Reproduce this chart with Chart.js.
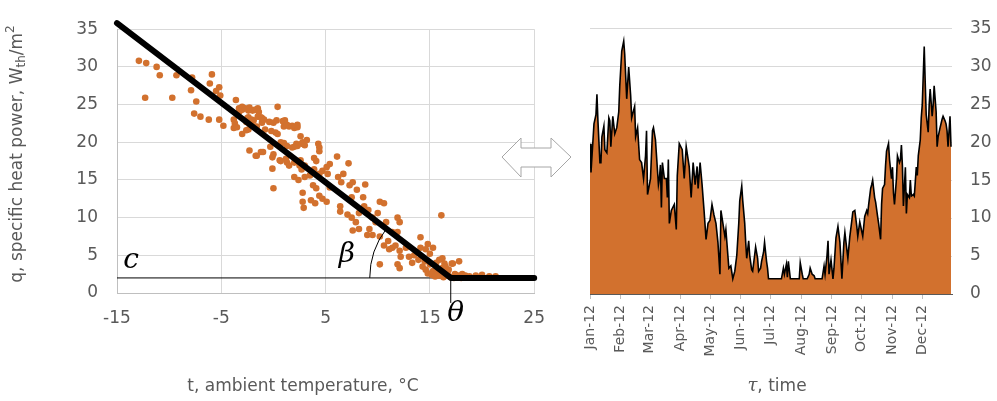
<!DOCTYPE html>
<html>
<head>
<meta charset="utf-8">
<script src="https://cdn.jsdelivr.net/npm/chart.js@4.4.1/dist/chart.umd.min.js"></script>
<style>
  body { margin: 0; background: #fff; width: 997px; height: 401px; overflow: hidden; position: relative; }
  #scatterChart { position: absolute; left: 0; top: 0; }
  #timeChart { position: absolute; left: 570px; top: 0; }
  #arrow { position: absolute; left: 0; top: 0; }
</style>
</head>
<body>
<canvas id="scatterChart" width="560" height="401"></canvas>
<canvas id="timeChart" width="427" height="401"></canvas>
<svg id="arrow" width="997" height="401">
  <polygon points="502,157 521,138 521,148 551,148 551,138 571,157 551,177 551,167 521,167 521,177"
           fill="#fff" stroke="#a6a6a6" stroke-width="1"/>
</svg>
<script>
// left panel: daily points, ambient temperature (°C) vs specific heat power
const scatterTemp = [
  -12.9, -12.2, -11.2, -10.9, -12.3, -9.7, -9.3, -7.8, -5.9, -7.9,
  -7.4, -6.1, -5.5, -5.2, -5.1, -7.6, -7.0, -6.2, -5.2, -4.8,
  -3.6, -3.3, -3.0, -3.3, -3.8, -3.8, -3.0, -2.4, -2.0, -1.5,
  -1.4, -1.2, -2.4, -2.6, -1.9, -1.1, -0.4, 0.3, 0.4, -2.4,
  -1.8, -0.8, -0.2, 0.4, 1.1, 1.0, 1.5, 2.0, 0.7, -0.3,
  -1.2, -2.3, -1.7, 0.0, 0.7, 1.3, -0.1, 2.0, 0.0,
  2.3, 2.6, 2.8, 3.2, 3.0, 2.2, 2.0, 4.3, 4.4, 4.4,
  3.9, 4.1, 3.0, 2.7, 2.4, 3.0, 3.5, 3.9, 4.4, 4.7,
  5.1, 5.4, 5.2, 6.1, 7.2, 6.2, 6.7, 6.5, 7.3, 7.6,
  8.0, 8.8, 3.8, 4.1, 2.8,
  8.6, 7.5, 4.4, 2.8, 2.9, 4.0, 4.7, 5.1, 6.4, 6.4,
  7.1, 7.5, 7.9, 8.2, 8.7, 9.1, 9.5, 10.0, 10.2, 10.6,
  9.8, 9.2, 9.0, 8.2, 7.6, 9.5, 10.2, 10.8, 11.0, 11.4,
  11.9, 12.1, 11.9, 10.6, 11.1, 11.4, 11.7, 12.1, 12.2, 10.2,
  11.9, 12.1, 12.7, 13.0, 13.3, 13.5, 14.1, 14.1, 14.6, 15.3,
  14.8, 13.9, 14.3, 14.6, 15.0, 15.3, 15.6, 15.9, 16.2, 15.7,
  16.1, 16.4, 16.8, 17.2, 17.8, 17.4, 17.7, 18.1, 18.4, 18.8,
  19.4, 20.0, 20.7, 21.3, 16.1, 15.0, 16.2, 16.7, 17.0, 5.4,
  3.6, 14.8, 15.2, 15.5, 15.9, 16.3, 16.6, 17.3, 17.6, 18.0,
  18.6, 14.5, 15.6, 16.5, 17.1,
  -3.7, -3.5, -2.5, -2.1, -1.5, -1.1, -0.9, -2.2, -1.6, -2.6,
  0.0, 0.9, 1.3, 1.8, 2.3, 0.2, 1.0, 1.3, 1.8, 2.3,
  2.7, -1.6, -1.0, -0.1, 0.6, 1.2, 1.5, 2.0, 2.5, 2.6,
  -3.0, -2.7, -2.3, -1.8
];
const scatterQ = [
  30.8, 30.5, 30.0, 28.9, 25.9, 25.9, 28.9, 28.6, 29.0, 26.9,
  25.4, 27.8, 26.8, 27.3, 26.2, 23.8, 23.4, 23.0, 23.0, 22.2,
  25.6, 24.5, 24.7, 24.0, 23.0, 21.9, 21.1, 24.2, 24.2, 24.5,
  24.0, 23.3, 23.3, 22.7, 22.9, 22.6, 22.7, 22.9, 24.7, 21.7,
  22.1, 21.7, 21.5, 21.1, 22.9, 22.1, 22.1, 21.9, 20.0, 19.4,
  18.7, 18.9, 18.2, 18.4, 17.5, 17.3, 16.5, 15.4, 13.9,
  22.0, 20.8, 20.0, 20.3, 19.6, 19.8, 19.4, 19.8, 19.3, 18.8,
  17.9, 17.5, 16.9, 16.4, 15.0, 15.4, 15.6, 16.4, 15.8, 16.2,
  16.7, 17.1, 15.8, 18.1, 17.2, 15.4, 15.8, 14.7, 14.3, 14.7,
  13.7, 14.4, 14.3, 13.9, 13.3,
  12.7, 12.7, 12.9, 12.1, 11.3, 11.9, 12.5, 12.1, 11.5, 10.8,
  10.4, 10.0, 9.4, 10.6, 11.5, 11.0, 10.0, 10.6, 12.1, 11.9,
  9.4, 8.5, 7.7, 8.5, 8.3, 7.7, 7.5, 9.4, 6.9, 8.1,
  10.0, 9.4, 8.1, 6.3, 5.8, 6.0, 6.3, 5.6, 4.8, 3.8,
  3.8, 3.3, 6.0, 4.8, 4.0, 5.0, 7.4, 6.0, 5.8, 6.0,
  6.5, 4.4, 3.5, 3.1, 3.8, 2.9, 3.3, 4.4, 4.6, 2.5,
  2.9, 3.9, 3.1, 3.9, 4.2, 2.5, 2.3, 2.5, 2.3, 2.2,
  2.3, 2.4, 2.2, 2.2, 10.3, 5.2, 3.3, 2.7, 2.1, 14.0,
  12.3, 2.6, 2.4, 2.2, 2.3, 2.1, 2.4, 2.0, 2.2, 2.0,
  2.1, 4.2, 4.0, 3.5, 3.9,
  22.5, 22.0, 23.2, 23.0, 23.4, 23.2, 23.0, 22.3, 22.1, 21.6,
  22.6, 22.8, 22.3, 22.2, 22.3, 21.3, 19.9, 19.5, 19.3, 19.5,
  19.8, 18.2, 18.7, 18.0, 17.6, 17.8, 16.9, 17.3, 16.9, 17.6,
  24.3, 24.5, 24.6, 24.3
];

// piecewise fit: start, theta (balance point), end
const fitTemp = [-15, 17, 25];
const fitQ = [35.8, 2, 2];
const leftXTicks = [-15, -5, 5, 15, 25];

// right panel: daily values through 2012 (day of year, q)
const dayOfYear = [
  0, 1, 4, 6, 7, 8, 10, 11, 12, 14, 15, 17, 19, 20, 21, 23, 25, 27, 29, 30,
  32, 34, 35, 37, 39, 41, 42, 45, 46, 48, 50, 52, 54, 56, 57, 58, 61, 63, 64, 66,
  69, 70, 71, 72, 73, 75, 77, 78, 79, 80, 82, 85, 87, 88, 90, 93, 95, 97, 100, 102,
  104, 106, 108, 109, 111, 113, 115, 117, 119, 121,
  123, 125, 127, 129, 131, 132, 134, 136, 137, 138, 140, 142, 144, 146, 148, 150, 151, 153, 154, 156,
  157, 158, 160, 161, 163, 164, 166, 167, 169, 170, 172, 173, 175, 176, 178, 179, 180, 193, 195, 196,
  198, 199, 200, 202, 211, 212, 214, 215, 219, 221, 222, 224, 226, 227, 234, 236, 237, 239, 240, 241,
  243, 245, 246, 248, 250, 252, 254, 256, 257, 259, 260, 262, 264, 265, 267, 269, 270, 272, 275, 277,
  279, 280, 281, 283, 284, 285, 287, 288, 290, 291, 293, 294, 295, 297, 298, 299, 301, 302, 304, 305,
  306, 307, 309, 310, 312, 313, 314, 315, 316, 318, 319, 320, 322, 323, 324, 326, 327, 329, 330, 331,
  333, 334, 335, 337, 338, 339, 341, 342, 343, 345, 346, 347, 349, 350, 351, 353, 355, 356, 358, 359,
  360, 361, 363, 364
];
const qDaily = [
  19.8, 16.0, 22.4, 23.6, 26.3, 22.8, 17.3, 17.3, 20.7, 22.1, 19.0, 18.6, 23.2, 22.8, 19.4, 23.4, 21.1, 21.9, 24.0, 27.4,
  32.0, 33.3, 31.6, 25.7, 29.9, 26.1, 23.2, 24.7, 20.7, 21.9, 17.7, 17.3, 15.2, 18.2, 21.5, 13.1, 15.2, 21.5, 21.9, 20.3,
  14.4, 15.2, 17.0, 11.4, 17.3, 15.2, 15.2, 12.7, 17.7, 9.3, 11.0, 11.8, 8.5, 15.6, 19.8, 19.0, 15.2, 19.4, 16.8, 12.7,
  17.3, 14.4, 16.8, 13.9, 17.3, 14.4, 11.0, 7.2, 9.3, 9.7,
  11.8, 10.4, 9.3, 6.8, 2.6, 11.0, 9.3, 7.6, 8.5, 6.8, 3.4, 3.7, 2.0, 3.0, 5.1, 9.3, 12.3, 14.2, 12.3, 9.3,
  6.8, 4.7, 7.0, 5.1, 3.2, 3.0, 5.1, 6.2, 4.7, 3.0, 3.4, 4.3, 5.5, 6.8, 4.3, 3.4, 2.0, 2.0, 3.4, 2.6,
  3.9, 2.2, 4.3, 2.0, 2.0, 4.1, 2.6, 2.0, 2.0, 2.6, 3.4, 2.6, 2.4, 2.0, 2.0, 3.7, 2.6, 5.1, 7.0, 2.6,
  4.5, 2.0, 3.4, 7.4, 8.9, 6.8, 2.0, 6.8, 8.1, 5.8, 4.7, 7.6, 9.7, 10.8, 11.0, 8.9, 7.6, 9.5, 7.6, 10.2,
  11.0, 10.6, 11.8, 13.9, 14.4, 15.0, 12.7, 12.1, 10.2, 9.3, 7.2, 11.8, 13.9, 14.4, 16.9, 18.8, 19.8, 17.7, 15.2, 16.7,
  13.3, 11.8, 15.2, 18.2, 17.3, 17.7, 19.6, 16.9, 11.6, 16.7, 10.6, 13.1, 12.7, 15.0, 12.9, 13.1, 12.9, 16.7, 15.6, 18.2,
  20.3, 23.2, 24.9, 32.6, 27.8, 23.6, 21.3, 24.9, 27.0, 23.4, 24.9, 27.4, 24.0, 19.4, 20.7, 21.9, 23.0, 23.4, 22.8, 22.4,
  21.5, 19.4, 23.4, 19.4
];
const monthStarts = [0, 31, 60, 91, 121, 152, 182, 213, 244, 274, 305, 335];
const monthLabels = ['Jan-12', 'Feb-12', 'Mar-12', 'Apr-12', 'May-12', 'Jun-12',
                     'Jul-12', 'Aug-12', 'Sep-12', 'Oct-12', 'Nov-12', 'Dec-12'];

const orange = '#D2712E';
const gray = '#595959';
const tickFont = { family: 'DejaVu Sans', size: 17 };
const mathFont = 'italic 28px "DejaVu Serif"';

// c, beta, theta marks + axis titles on the left panel
const leftAnnotations = {
  id: 'leftAnnotations',
  afterDatasetsDraw(chart) {
    const ctx = chart.ctx;
    const x = chart.scales.x, y = chart.scales.y;
    const px = x.getPixelForValue(fitTemp[1]);
    const py = y.getPixelForValue(fitQ[1]);
    const sx = x.getPixelForValue(fitTemp[0]);
    const sy = y.getPixelForValue(fitQ[0]);
    const ang = Math.atan2(py - sy, px - sx);

    ctx.save();
    ctx.strokeStyle = '#000';
    ctx.lineWidth = 1;
    ctx.beginPath();
    ctx.moveTo(px, py);
    ctx.lineTo(px, py + 25);
    ctx.stroke();

    ctx.beginPath();
    ctx.arc(px, py, 81, Math.PI, Math.PI + ang, false);
    ctx.stroke();

    ctx.fillStyle = '#000';
    ctx.font = mathFont;
    ctx.textAlign = 'center';
    ctx.textBaseline = 'alphabetic';
    ctx.fillText('c', chart.chartArea.left + 14, py - 10);
    ctx.fillText('β', px - 104, py - 16);
    ctx.fillText('θ', px + 5, py + 43);
    ctx.restore();
  },
  afterDraw(chart) {
    const ctx = chart.ctx;
    ctx.save();
    ctx.fillStyle = gray;
    ctx.textBaseline = 'middle';
    ctx.textAlign = 'center';
    ctx.font = '17px "DejaVu Sans"';
    ctx.fillText('t, ambient temperature, °C', 303, 387);

    // rotated y title with sub/superscript
    const parts = [
      ['q, specific heat power, W', 17, 0],
      ['th', 12, 4],
      ['/m', 17, 0],
      ['2', 12, -7]
    ];
    let total = 0;
    parts.forEach(p => { ctx.font = p[1] + 'px "DejaVu Sans"'; total += ctx.measureText(p[0]).width; });
    ctx.translate(18, 154);
    ctx.rotate(-Math.PI / 2);
    ctx.textAlign = 'left';
    let cx = -total / 2;
    parts.forEach(p => {
      ctx.font = p[1] + 'px "DejaVu Sans"';
      ctx.fillText(p[0], cx, p[2]);
      cx += ctx.measureText(p[0]).width;
    });
    ctx.restore();
  }
};

new Chart(document.getElementById('scatterChart'), {
  type: 'scatter',
  data: {
    datasets: [
      {
        type: 'line',
        data: fitTemp.map((t, i) => ({ x: t, y: fitQ[i] })),
        borderColor: '#000',
        borderWidth: 6,
        borderCapStyle: 'round',
        borderJoinStyle: 'round',
        pointRadius: 0,
        fill: false,
        clip: false
      },
      {
        data: scatterTemp.map((t, i) => ({ x: t, y: scatterQ[i] })),
        backgroundColor: orange,
        borderWidth: 0,
        pointRadius: 3.3
      },
      {
        type: 'line',
        data: [{ x: fitTemp[0], y: fitQ[1] }, { x: fitTemp[1], y: fitQ[1] }],
        borderColor: '#000',
        borderWidth: 1,
        pointRadius: 0,
        fill: false
      }
    ]
  },
  options: {
    responsive: false,
    animation: false,
    events: [],
    layout: { padding: { top: 17, right: 25, left: 0, bottom: 0 } },
    plugins: { legend: { display: false }, tooltip: { enabled: false } },
    scales: {
      x: {
        type: 'linear',
        min: -15,
        max: 25,
        afterBuildTicks: (s) => { s.ticks = leftXTicks.map(v => ({ value: v })); },
        afterFit: (s) => { s.height = 108; },
        grid: { color: '#d9d9d9', drawTicks: false },
        border: { color: '#bfbfbf' },
        ticks: { color: gray, font: tickFont, padding: 15 }
      },
      y: {
        min: 0,
        max: 35,
        afterFit: (s) => { s.width = 117; },
        grid: { color: '#d9d9d9', drawTicks: false },
        border: { color: '#bfbfbf' },
        ticks: { stepSize: 5, color: gray, font: tickFont, padding: 19 }
      }
    }
  },
  plugins: [leftAnnotations]
});

const rightTitle = {
  id: 'rightTitle',
  afterDraw(chart) {
    const ctx = chart.ctx;
    ctx.save();
    ctx.fillStyle = gray;
    ctx.textBaseline = 'middle';
    ctx.textAlign = 'left';
    const tau = 'τ', rest = ', time';
    ctx.font = 'italic 18px "DejaVu Serif"';
    const w1 = ctx.measureText(tau).width;
    ctx.font = '17px "DejaVu Sans"';
    const w2 = ctx.measureText(rest).width;
    let cx = 207 - (w1 + w2) / 2;
    ctx.font = 'italic 18px "DejaVu Serif"';
    ctx.fillText(tau, cx, 386);
    ctx.font = '17px "DejaVu Sans"';
    ctx.fillText(rest, cx + w1, 387);
    ctx.restore();
  }
};

new Chart(document.getElementById('timeChart'), {
  type: 'line',
  data: {
    datasets: [{
      data: dayOfYear.map((d, i) => ({ x: d, y: qDaily[i] })),
      borderColor: '#000',
      borderWidth: 1.6,
      backgroundColor: orange,
      fill: 'origin',
      pointRadius: 0,
      tension: 0
    }]
  },
  options: {
    responsive: false,
    animation: false,
    events: [],
    layout: { padding: { top: 17, right: 0, left: 20, bottom: 0 } },
    plugins: { legend: { display: false }, tooltip: { enabled: false } },
    scales: {
      x: {
        type: 'linear',
        min: 0,
        max: 365,
        afterBuildTicks: (s) => { s.ticks = monthStarts.map(v => ({ value: v })); },
        afterFit: (s) => { s.height = 107; },
        grid: { drawOnChartArea: false, tickLength: 5, color: '#bfbfbf' },
        border: { color: '#595959' },
        ticks: {
          callback: (v) => monthLabels[monthStarts.indexOf(v)],
          autoSkip: false,
          minRotation: 90,
          maxRotation: 90,
          color: gray,
          font: { family: 'DejaVu Sans', size: 14 },
          padding: 6
        }
      },
      y: {
        position: 'right',
        min: 0,
        max: 35,
        afterFit: (s) => { s.width = 45; },
        grid: { color: '#d9d9d9', drawTicks: false },
        border: { display: false },
        ticks: { stepSize: 5, color: gray, font: tickFont, padding: 18 }
      }
    }
  },
  plugins: [rightTitle]
});
</script>
</body>
</html>
